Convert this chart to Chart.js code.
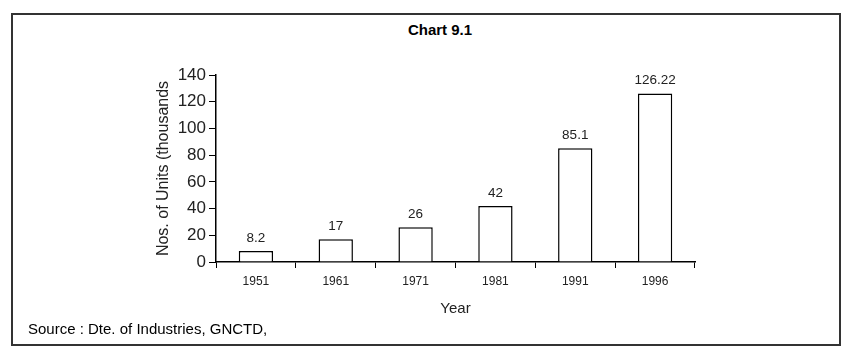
<!DOCTYPE html>
<html>
<head>
<meta charset="utf-8">
<script src="https://cdn.jsdelivr.net/npm/chart.js@4.4.1/dist/chart.umd.min.js"></script>
<style>
  html, body { margin: 0; padding: 0; background: #fff; }
  .wrap { position: relative; width: 849px; height: 352px; }
  .box { position: absolute; left: 11px; top: 13px; width: 826px; height: 329px; border: 2px solid #333; }
  canvas { position: absolute; left: 0; top: 0; }
  .titulo { position: absolute; left: 0; width: 880px; top: 21px; text-align: center;
            font: bold 15px "Liberation Sans", Arial, sans-serif; color: #000; }
  .fuente { position: absolute; left: 28px; top: 320px;
            font: 15px "Liberation Sans", Arial, sans-serif; color: #000; }
</style>
</head>
<body>
<div class="wrap">
  <div class="box"></div>
  <div class="titulo">Chart 9.1</div>
  <canvas id="grafico" width="849" height="352"></canvas>
  <div class="fuente">Source : Dte. of Industries, GNCTD,</div>
</div>
<script>
/* datos */
const anios = ['1951', '1961', '1971', '1981', '1991', '1996'];
const unidades = [8.2, 17, 26, 42, 85.1, 126.22];
const etiquetasValor = ['8.2', '17', '26', '42', '85.1', '126.22'];

/* etiquetas encima de las barras */
const valoresPlugin = {
    id: 'valores',
    afterDatasetsDraw(chart) {
        const ctx = chart.ctx;
        const meta = chart.getDatasetMeta(0);
        ctx.save();
        ctx.font = '13.5px "Liberation Sans", Arial, sans-serif';
        ctx.fillStyle = '#222';
        ctx.textAlign = 'center';
        ctx.textBaseline = 'bottom';
        meta.data.forEach((barra, i) => {
            ctx.fillText(etiquetasValor[i], barra.x, barra.y - 6);
        });
        ctx.restore();
    }
};

const ctx = document.getElementById('grafico').getContext('2d');
const myChart = new Chart(ctx, {
    type: 'bar',
    data: {
        labels: anios,
        datasets: [{
            data: unidades,
            backgroundColor: '#fff',
            borderColor: '#000',
            borderWidth: 1.5,
            barPercentage: 0.43,
            categoryPercentage: 1
        }]
    },
    options: {
        responsive: false,
        animation: false,
        layout: { padding: { left: 150, right: 154, top: 75, bottom: 30 } },
        plugins: {
            legend: { display: false },
            tooltip: { enabled: false }
        },
        scales: {
            x: {
                grid: {
                    offset: true,
                    drawOnChartArea: false,
                    drawTicks: true,
                    tickLength: 6,
                    color: '#000'
                },
                border: { color: '#000', width: 1.5 },
                ticks: {
                    color: '#222',
                    font: { family: '"Liberation Sans", Arial, sans-serif', size: 12 },
                    padding: 6,
                    maxRotation: 0
                },
                title: {
                    display: true,
                    text: 'Year',
                    color: '#222',
                    font: { family: '"Liberation Sans", Arial, sans-serif', size: 15 },
                    padding: { top: 6 }
                },
                afterFit: (scale) => { scale.height = 60; }
            },
            y: {
                min: 0,
                max: 140,
                ticks: {
                    stepSize: 20,
                    color: '#222',
                    font: { family: '"Liberation Sans", Arial, sans-serif', size: 17 },
                    padding: 3
                },
                grid: {
                    drawOnChartArea: false,
                    drawTicks: true,
                    tickLength: 7,
                    color: '#000'
                },
                border: { color: '#000', width: 1.5 },
                title: {
                    display: true,
                    text: 'Nos. of Units (thousands',
                    color: '#222',
                    font: { family: '"Liberation Sans", Arial, sans-serif', size: 16 },
                    padding: { bottom: 2 }
                },
                afterFit: (scale) => { scale.width = 66; }
            }
        }
    },
    plugins: [valoresPlugin]
});
</script>
</body>
</html>
